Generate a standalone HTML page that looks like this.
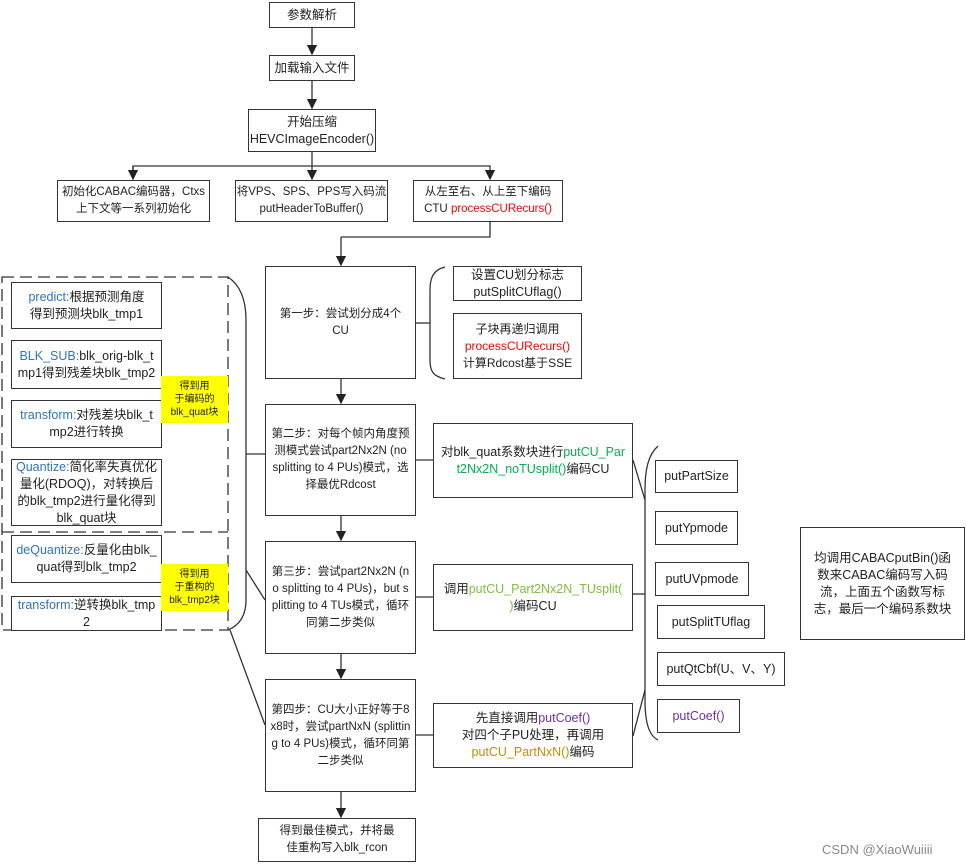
<!DOCTYPE html>
<html><head><meta charset="utf-8"><style>
body{margin:0;width:966px;height:866px;background:#fff;position:relative;overflow:hidden;font-family:"Liberation Sans","Noto Sans CJK SC",sans-serif;color:#222;}
.b{position:absolute;border:1.5px solid #333;box-sizing:border-box;display:flex;align-items:center;justify-content:center;text-align:center;font-size:12.5px;line-height:17px;background:#fff;word-break:break-all;}
.b>div{width:100%}
.s{font-size:11.5px;line-height:17px}
.y{position:absolute;background:#ffff00;font-size:10px;line-height:13px;text-align:center;display:flex;align-items:center;justify-content:center;}
.bl{color:#2e75b6}.r{color:#ff0000}.g{color:#00b050}.lg{color:#7fbf3f}.p{color:#7030a0}.o{color:#bf8f00}
svg{position:absolute;left:0;top:0}
</style></head><body>
<svg width="966" height="866">
<defs><marker id="a" markerWidth="8" markerHeight="8" refX="7" refY="4" orient="auto"><path d="M0,0L8,4L0,8z" fill="#222"/></marker></defs>
<g stroke="#333" stroke-width="1.3" fill="none">
<line x1="312" y1="27" x2="312" y2="54" marker-end="url(#a)"/>
<line x1="312" y1="81" x2="312" y2="108" marker-end="url(#a)"/>
<line x1="312" y1="152" x2="312" y2="179" marker-end="url(#a)"/>
<polyline points="133,179 133,166 490,166 490,179" marker-end="url(#a)"/>
<line x1="133" y1="166" x2="133" y2="179" marker-end="url(#a)"/>
<polyline points="490,222 490,237 341,237"/>
<line x1="341" y1="237" x2="341" y2="265" marker-end="url(#a)"/>
<line x1="341" y1="379" x2="341" y2="403" marker-end="url(#a)"/>
<line x1="341" y1="516" x2="341" y2="540" marker-end="url(#a)"/>
<line x1="341" y1="654" x2="341" y2="678" marker-end="url(#a)"/>
<line x1="341" y1="792" x2="341" y2="817" marker-end="url(#a)"/>
<line x1="416" y1="323" x2="430" y2="323"/>
<path d="M445,267 C432,270 430,280 430,290 L430,360 C430,370 432,376 445,379"/>
<line x1="416" y1="460" x2="433" y2="460"/>
<line x1="416" y1="597" x2="433" y2="597"/>
<line x1="416" y1="735" x2="433" y2="735"/>
<path d="M658,446 C648,455 645,470 645,490 L645,700 C645,720 648,735 658,740"/>
<line x1="633" y1="594" x2="645" y2="594"/>
<line x1="633" y1="460" x2="645" y2="500"/>
<line x1="633" y1="736" x2="645" y2="690"/>
<rect x="2" y="277" width="226" height="353" stroke-dasharray="12,6"/>
<line x1="2" y1="532" x2="228" y2="532" stroke-dasharray="12,6"/>
<path d="M228,277 C240,285 246,300 246,320 L246,600 C246,615 240,625 228,630"/>
<line x1="246" y1="454" x2="265" y2="454"/>
<line x1="246" y1="570" x2="265" y2="600"/>
<line x1="230" y1="630" x2="265" y2="725"/>
</g></svg>

<div class="b" style="left:269px;top:2px;width:86px;height:26px"><div>参数解析</div></div>
<div class="b" style="left:269px;top:55px;width:86px;height:26px"><div>加载输入文件</div></div>
<div class="b" style="left:248px;top:109px;width:128px;height:43px"><div>开始压缩<br>HEVCImageEncoder()</div></div>
<div class="b" style="left:57px;top:180px;width:153px;height:42px;font-size:11.5px"><div>初始化CABAC编码器，Ctxs<br>上下文等一系列初始化</div></div>
<div class="b" style="left:235px;top:180px;width:153px;height:42px;font-size:11.5px"><div>将VPS、SPS、PPS写入码流<br>putHeaderToBuffer()</div></div>
<div class="b" style="left:413px;top:180px;width:150px;height:42px;font-size:11.5px"><div>从左至右、从上至下编码<br>CTU <span class="r">processCURecurs()</span></div></div>

<div class="b s" style="left:265px;top:266px;width:151px;height:113px;padding:0 4px"><div>第一步：尝试划分成4个<br>CU</div></div>
<div class="b s" style="left:265px;top:404px;width:151px;height:112px;padding:0 4px"><div>第二步：对每个帧内角度预测模式尝试part2Nx2N (no splitting to 4 PUs)模式，选择最优Rdcost</div></div>
<div class="b s" style="left:265px;top:541px;width:151px;height:113px;padding:0 4px"><div>第三步：尝试part2Nx2N (no splitting to 4 PUs)，but splitting to 4 TUs模式，循环同第二步类似</div></div>
<div class="b s" style="left:265px;top:679px;width:151px;height:113px;padding:0 3px"><div>第四步：CU大小正好等于8x8时，尝试partNxN (splitting to 4 PUs)模式，循环同第二步类似</div></div>
<div class="b s" style="left:258px;top:818px;width:158px;height:44px"><div>得到最佳模式，并将最<br>佳重构写入blk_rcon</div></div>

<div class="b" style="left:453px;top:266px;width:129px;height:35px"><div>设置CU划分标志<br>putSplitCUflag()</div></div>
<div class="b" style="left:453px;top:313px;width:129px;height:66px;font-size:12px"><div>子块再递归调用<br><span class="r">processCURecurs()</span><br>计算Rdcost基于SSE</div></div>
<div class="b" style="left:433px;top:423px;width:200px;height:75px;padding:0 6px"><div>对blk_quat系数块进行<span class="g">putCU_Part2Nx2N_noTUsplit()</span>编码CU</div></div>
<div class="b" style="left:433px;top:564px;width:200px;height:67px;padding:0 4px"><div>调用<span class="lg">putCU_Part2Nx2N_TUsplit(</span><br><span class="lg">)</span>编码CU</div></div>
<div class="b" style="left:433px;top:703px;width:200px;height:65px"><div>先直接调用<span class="p">putCoef()</span><br>对四个子PU处理，再调用<br><span class="o">putCU_PartNxN()</span>编码</div></div>

<div class="b" style="left:655px;top:460px;width:83px;height:33px"><div>putPartSize</div></div>
<div class="b" style="left:655px;top:511px;width:83px;height:34px"><div>putYpmode</div></div>
<div class="b" style="left:655px;top:562px;width:94px;height:34px"><div>putUVpmode</div></div>
<div class="b" style="left:657px;top:605px;width:108px;height:34px"><div>putSplitTUflag</div></div>
<div class="b" style="left:657px;top:652px;width:128px;height:34px"><div>putQtCbf(U、V、Y)</div></div>
<div class="b p" style="left:657px;top:699px;width:83px;height:34px"><div>putCoef()</div></div>
<div class="b" style="left:800px;top:527px;width:165px;height:113px;padding:0 12px"><div>均调用CABACputBin()函数来CABAC编码写入码流，上面五个函数写标志，最后一个编码系数块</div></div>

<div class="b" style="left:11px;top:282px;width:151px;height:47px"><div><span class="bl">predict:</span>根据预测角度<br>得到预测块blk_tmp1</div></div>
<div class="b" style="left:11px;top:340px;width:151px;height:49px;padding:0 3px"><div><span class="bl">BLK_SUB:</span>blk_orig-blk_tmp1得到残差块blk_tmp2</div></div>
<div class="b" style="left:11px;top:400px;width:151px;height:48px;padding:0 3px"><div><span class="bl">transform:</span>对残差块blk_tmp2进行转换</div></div>
<div class="b" style="left:11px;top:459px;width:151px;height:67px;padding:0 3px"><div><span class="bl">Quantize:</span>简化率失真优化量化(RDOQ)，对转换后的blk_tmp2进行量化得到blk_quat块</div></div>
<div class="b" style="left:11px;top:535px;width:151px;height:48px;padding:0 3px"><div><span class="bl">deQuantize:</span>反量化由blk_quat得到blk_tmp2</div></div>
<div class="b" style="left:11px;top:596px;width:151px;height:35px;padding:0 3px"><div><span class="bl">transform:</span>逆转换blk_tmp2</div></div>
<div class="y" style="left:161px;top:376px;width:67px;height:47px">得到用<br>于编码的<br>blk_quat块</div>
<div class="y" style="left:161px;top:564px;width:67px;height:47px">得到用<br>于重构的<br>blk_tmp2块</div>
<div style="position:absolute;left:822px;top:842px;font-size:13px;color:#888">CSDN @XiaoWuiiii</div>
</body></html>
